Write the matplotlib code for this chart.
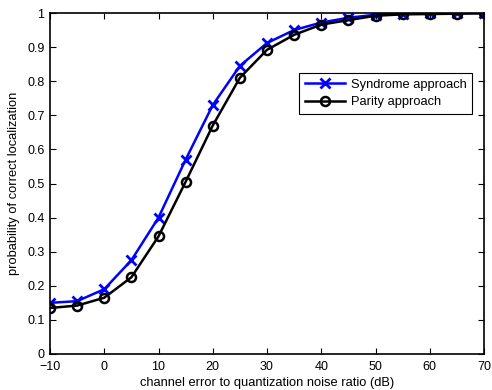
import matplotlib
matplotlib.use("Agg")
import matplotlib.pyplot as plt

plt.rcParams['font.family'] = ['Liberation Sans', 'DejaVu Sans']

snr = [-10, -5, 0, 5, 10, 15, 20, 25, 30, 35, 40, 45, 50, 55, 60, 65, 70]
syndrome = [0.150, 0.155, 0.190, 0.275, 0.400, 0.570, 0.730, 0.845, 0.912, 0.950, 0.972, 0.986, 0.995, 0.998, 0.999, 1.000, 1.000]
parity = [0.135, 0.142, 0.165, 0.225, 0.345, 0.505, 0.670, 0.810, 0.892, 0.936, 0.966, 0.979, 0.992, 0.996, 0.997, 0.998, 0.999]

xticks = [-10, 0, 10, 20, 30, 40, 50, 60, 70]
xticklabels = ['\u221210', '0', '10', '20', '30', '40', '50', '60', '70']
yticks = [0, 0.1, 0.2, 0.3, 0.4, 0.5, 0.6, 0.7, 0.8, 0.9, 1]
yticklabels = ['0', '0.1', '0.2', '0.3', '0.4', '0.5', '0.6', '0.7', '0.8', '0.9', '1']

fig = plt.figure(figsize=(4.92, 3.9), dpi=100)
ax = fig.add_axes([50/492, 1-354/390, (484-50)/492, (354-13)/390])

ax.plot(snr, syndrome, color='#0000ff', marker='x', markersize=7, markeredgewidth=2,
        linewidth=1.8, label='Syndrome approach')
ax.plot(snr, parity, color='black', marker='o', markersize=6.5, markerfacecolor='none',
        markeredgewidth=1.8, linewidth=1.8, label='Parity approach')

ax.set_xlim(-10, 70)
ax.set_ylim(0, 1)
ax.set_xticks(xticks)
ax.set_xticklabels(xticklabels)
ax.set_yticks(yticks)
ax.set_yticklabels(yticklabels)
ax.tick_params(direction='in', labelsize=9, length=4, top=True, right=True)
ax.tick_params(axis='x', pad=5)
ax.tick_params(axis='y', pad=4)
for s in ax.spines.values():
    s.set_linewidth(1.2)
ax.set_xlabel('channel error to quantization noise ratio (dB)', fontsize=9.3, labelpad=3)
ax.set_ylabel('probability of correct localization', fontsize=9.3, labelpad=5)

leg = ax.legend(loc='upper left', bbox_to_anchor=((299-50)/434, 1-(73-13)/341),
                fontsize=9.3, fancybox=False, framealpha=1, edgecolor='black',
                borderpad=0.45, handlelength=3.1, handletextpad=0.45,
                labelspacing=0.4, borderaxespad=0)
leg.get_frame().set_linewidth(0.8)

fig.savefig('out.png', dpi=100)
